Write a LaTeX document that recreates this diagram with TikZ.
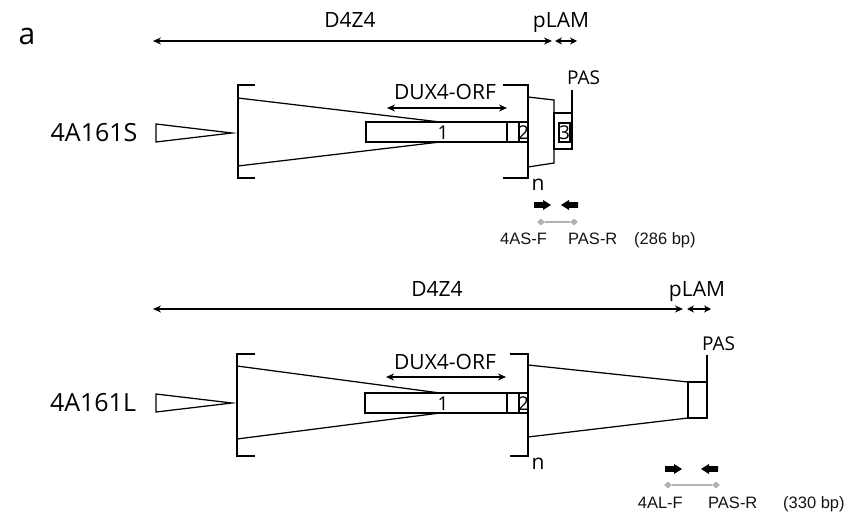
\documentclass[tikz,border=0pt]{standalone}
\usepackage{fontspec}
\setmainfont{Open Sans}
\newfontfamily\arialf{Liberation Sans}
\usetikzlibrary{arrows.meta,shapes.geometric}
\definecolor{grl}{RGB}{178,178,178}
\begin{document}
\begin{tikzpicture}[x=1bp,y=-1bp,
  ln/.style={line width=1.25bp, black, line join=miter},
  dimarrow/.style={line width=1.3bp,{Stealth[length=8bp,width=7bp]}-{Stealth[length=8bp,width=7bp]}},
  lbl/.style={inner sep=0pt, font=\fontsize{21bp}{24bp}\selectfont},
  big/.style={inner sep=0pt, font=\fontsize{25bp}{28bp}\selectfont},
  digit/.style={inner sep=0pt, font=\fontsize{19bp}{21bp}\selectfont},
  pas/.style={inner sep=0pt, font=\fontsize{19bp}{21bp}\selectfont},
  prim/.style={inner sep=0pt, font=\arialf\fontsize{16.5bp}{18bp}\selectfont, text=black!92},
  gdia/.style={diamond, fill=grl, inner sep=0pt, minimum width=8bp, minimum height=7bp},
  gline/.style={draw=grl, line width=1.5bp},
  rarr/.pic={\fill (0,-2.8) -- (9,-2.8) -- (9,-5) -- (17,0) -- (9,5) -- (9,2.8) -- (0,2.8) -- cycle;},
  larr/.pic={\fill (17,-2.8) -- (8,-2.8) -- (8,-5) -- (0,0) -- (8,5) -- (8,2.8) -- (17,2.8) -- cycle;}
]
\useasboundingbox (0,0) rectangle (851,513);

% panel letter
\node[inner sep=0pt, font=\fontsize{30bp}{32bp}\selectfont, anchor=base] (pa) at (27,45) {a};

% ================= top: 4A161S =================
\node[lbl, anchor=base] (d4zS) at (350,28) {D4Z4};
\node[lbl, anchor=base] (plamS) at (561,28) {pLAM};
\coordinate (d4SL) at (153,41);
\coordinate (d4SR) at (552,41);
\coordinate (plSL) at (555,41);
\coordinate (plSR) at (577,41);
\draw[dimarrow] (d4SL) -- (d4SR);
\draw[dimarrow,{Stealth[length=7bp,width=7bp]}-{Stealth[length=7bp,width=7bp]}] (plSL) -- (plSR);

\node[big] (nameS) at (94,133) {4A161S};
\draw[ln] (156,124) -- (232,133) -- (156,142) -- cycle;

% left bracket and repeat triangle
\draw[ln] (255,85) -- (238,85) -- (238,178) -- (255,178);
\draw[ln] (238,98) -- (440,122);
\draw[ln] (238,166) -- (440,142);
% ORF box
\draw[ln] (366,122) rectangle (528,142);
\draw[ln] (507,122) -- (507,142);
\draw[ln] (519,122) -- (519,142);
\node[digit] (e1S) at (443,132.5) {1};
\node[digit] (e2S) at (523.5,132.5) {2};
% DUX4-ORF
\coordinate (orfSL) at (387,108);
\coordinate (orfSR) at (507,108);
\draw[dimarrow] (orfSL) -- (orfSR);
\node[lbl, anchor=base] (orfS) at (445,100) {DUX4-ORF};
% right bracket
\draw[ln] (503,85) -- (528,85) -- (528,178) -- (503,178);
\node[lbl, anchor=base] (nS) at (538,191) {n};
% partial repeat and pLAM
\draw[ln] (528,97) -- (554,100) -- (554,163) -- (528,167);
\draw[ln] (554,113) rectangle (572,149);
\draw[ln] (559,123) rectangle (570,142);
\node[digit] (e3S) at (564.5,132.5) {3};
\coordinate (pasSb) at (572,113);
\coordinate (pasSt) at (572,90);
\draw[ln] (pasSb) -- (pasSt);
\node[pas, anchor=base west] (pasS) at (567,85) {PAS};
% primers
\pic at (534,205) {rarr};
\pic at (561,205) {larr};
\node[gdia] (gS1) at (541,222) {};
\node[gdia] (gS2) at (574,222) {};
\draw[gline] (gS1) -- (gS2);
\node[prim, anchor=base west] (fS) at (500,245) {4AS-F};
\node[prim, anchor=base west] (rS) at (568,245) {PAS-R};
\node[prim, anchor=base west] (bpS) at (634,245) {(286 bp)};

% ================= bottom: 4A161L =================
\node[lbl, anchor=base] (d4zL) at (437,297) {D4Z4};
\node[lbl, anchor=base] (plamL) at (697,297) {pLAM};
\coordinate (d4LL) at (153,309);
\coordinate (d4LR) at (683,309);
\coordinate (plLL) at (687,309);
\coordinate (plLR) at (711,309);
\draw[dimarrow] (d4LL) -- (d4LR);
\draw[dimarrow,{Stealth[length=7bp,width=7bp]}-{Stealth[length=7bp,width=7bp]}] (plLL) -- (plLR);

\node[big] (nameL) at (93,403) {4A161L};
\draw[ln] (156,394) -- (232,403) -- (156,412) -- cycle;

\draw[ln] (255,354) -- (237,354) -- (237,456) -- (255,456);
\draw[ln] (237,366) -- (440,393);
\draw[ln] (237,439) -- (440,413);
\draw[ln] (365,393) rectangle (528,413);
\draw[ln] (507,393) -- (507,413);
\draw[ln] (519,393) -- (519,413);
\node[digit] (e1L) at (443,403.5) {1};
\node[digit] (e2L) at (523.5,403.5) {2};
\coordinate (orfLL) at (386,377);
\coordinate (orfLR) at (506,377);
\draw[dimarrow] (orfLL) -- (orfLR);
\node[lbl, anchor=base] (orfL) at (445,369) {DUX4-ORF};
\draw[ln] (510,354) -- (528,354) -- (528,456) -- (510,456);
\node[lbl, anchor=base] (nL) at (538,469) {n};
% long partial repeat
\draw[ln] (528,365) -- (688,382);
\draw[ln] (528,437) -- (688,418);
\draw[ln] (688,382) rectangle (707,418);
\coordinate (pasLb) at (707,382);
\coordinate (pasLt) at (707,355);
\draw[ln] (pasLb) -- (pasLt);
\node[pas, anchor=base west] (pasL) at (702,350) {PAS};
% primers
\pic at (665,469) {rarr};
\pic at (701,469) {larr};
\node[gdia] (gL1) at (668,485) {};
\node[gdia] (gL2) at (716,485) {};
\draw[gline] (gL1) -- (gL2);
\node[prim, anchor=base east] (fL) at (683,508) {4AL-F};
\node[prim, anchor=base west] (rL) at (708,508) {PAS-R};
\node[prim, anchor=base west] (bpL) at (783,508) {(330 bp)};
\end{tikzpicture}
\end{document}
